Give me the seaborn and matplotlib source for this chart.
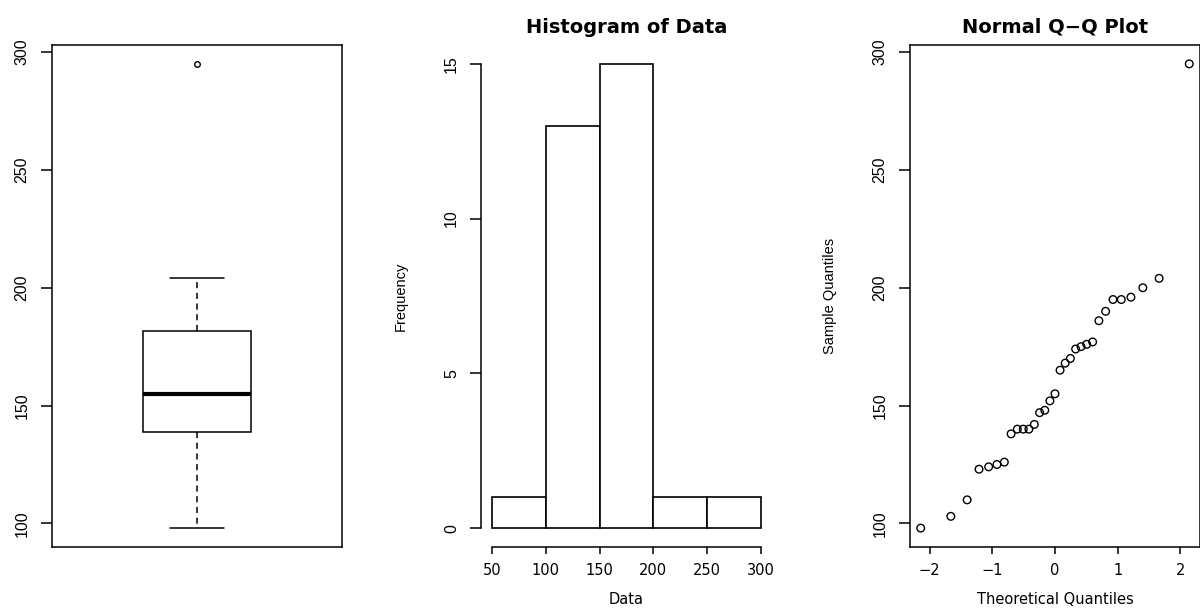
from statistics import NormalDist
import numpy as np
import pandas as pd
import matplotlib
matplotlib.use("Agg")
import matplotlib.pyplot as plt
import seaborn as sns

# sample values (sorted)
values = [98, 103, 110, 123, 124, 125, 126, 138, 140, 140, 140, 142, 147, 148,
          152, 155, 165, 168, 170, 174, 175, 176, 177, 186, 190, 195, 195, 196,
          200, 204, 295]
bin_edges = [50, 100, 150, 200, 250, 300]
hist_yticks = [0, 5, 10, 15]
box_yticks = [100, 150, 200, 250, 300]
qq_xticks = [-2, -1, 0, 1, 2]

sns.set_style("ticks")
plt.rcParams["font.family"] = ["DejaVu Sans"]
plt.rcParams["axes.linewidth"] = 1.1
plt.rcParams["xtick.major.size"] = 5
plt.rcParams["ytick.major.size"] = 8
plt.rcParams["xtick.major.width"] = 1.1
plt.rcParams["ytick.major.width"] = 1.1
for key in ["text.color", "axes.labelcolor", "axes.edgecolor",
            "xtick.color", "ytick.color"]:
    plt.rcParams[key] = "black"

narrow = ["Liberation Sans Narrow", "Liberation Sans"]

df = pd.DataFrame({"value": values})

# R style: right-closed bins
counts = pd.cut(df["value"], bin_edges, right=True).value_counts(sort=False).values
mids = [(a + b) / 2 for a, b in zip(bin_edges[:-1], bin_edges[1:])]

# normal quantiles, R ppoints for n > 10
n = len(values)
theo = [NormalDist().inv_cdf((i - 0.5) / n) for i in range(1, n + 1)]


def padded(lo, hi):
    d = (hi - lo) * 0.04
    return lo - d, hi + d


fig = plt.figure(figsize=(12, 6.12), dpi=100)
bottom, height = 0.1067, 0.8193
ax1 = fig.add_axes([0.0433, bottom, 0.2417, height])
ax2 = fig.add_axes([0.4011, bottom, 0.2418, height])
ax3 = fig.add_axes([0.7583, bottom, 0.2417, height])

# boxplot
sns.boxplot(y=df["value"], ax=ax1, width=0.372, color="white", linecolor="black",
            linewidth=1.1, whis=1.5,
            medianprops=dict(color="black", linewidth=3),
            whiskerprops=dict(linestyle=(0, (4, 3)), linewidth=1.1),
            capprops=dict(linewidth=1.1),
            flierprops=dict(marker="o", markerfacecolor="none",
                            markeredgecolor="black", markersize=4,
                            markeredgewidth=1))
ax1.set_xlim(-0.5, 0.5)
ax1.set_ylim(*padded(min(values), max(values)))
ax1.set_xticks([])
ax1.set_yticks(box_yticks)
ax1.set_ylabel("")
ax1.set_xlabel("")

# histogram
sns.histplot(x=mids, weights=counts, bins=bin_edges, ax=ax2, color="white",
             edgecolor="black", linewidth=1.2, alpha=1)
ax2.set_xlim(*padded(bin_edges[0], bin_edges[-1]))
ax2.set_ylim(*padded(0, max(counts)))
ax2.set_xticks(bin_edges)
ax2.set_yticks(hist_yticks)
for s in ["top", "right"]:
    ax2.spines[s].set_visible(False)
ax2.spines["left"].set_bounds(0, max(counts))
ax2.spines["bottom"].set_bounds(bin_edges[0], bin_edges[-1])
ax2.set_title("Histogram of Data", fontsize=14, fontweight="bold", pad=9)
ax2.set_xlabel("Data", fontsize=10.5, labelpad=10)
ax2.set_ylabel("Frequency", fontsize=10.5, family=narrow, labelpad=26)

# normal Q-Q
sns.scatterplot(x=theo, y=values, ax=ax3, marker="o", facecolors="none",
                edgecolor="black", s=30, linewidth=1)
ax3.set_xlim(*padded(min(theo), max(theo)))
ax3.set_ylim(*padded(min(values), max(values)))
ax3.set_xticks(qq_xticks)
ax3.set_yticks(box_yticks)
ax3.set_title("Normal Q\u2212Q Plot", fontsize=14, fontweight="bold", pad=9)
ax3.set_xlabel("Theoretical Quantiles", fontsize=10.5, labelpad=10)
ax3.set_ylabel("Sample Quantiles", fontsize=10.5, family=narrow, labelpad=26)

for ax in (ax1, ax2, ax3):
    ax.tick_params(axis="x", labelsize=10.5, pad=7, direction="out")
    ax.tick_params(axis="y", labelsize=11.5, pad=8, direction="out")
    for lab in ax.get_yticklabels():
        lab.set_rotation(90)
        lab.set_va("center")
        lab.set_family(narrow)

fig.savefig("out.png", dpi=100)
